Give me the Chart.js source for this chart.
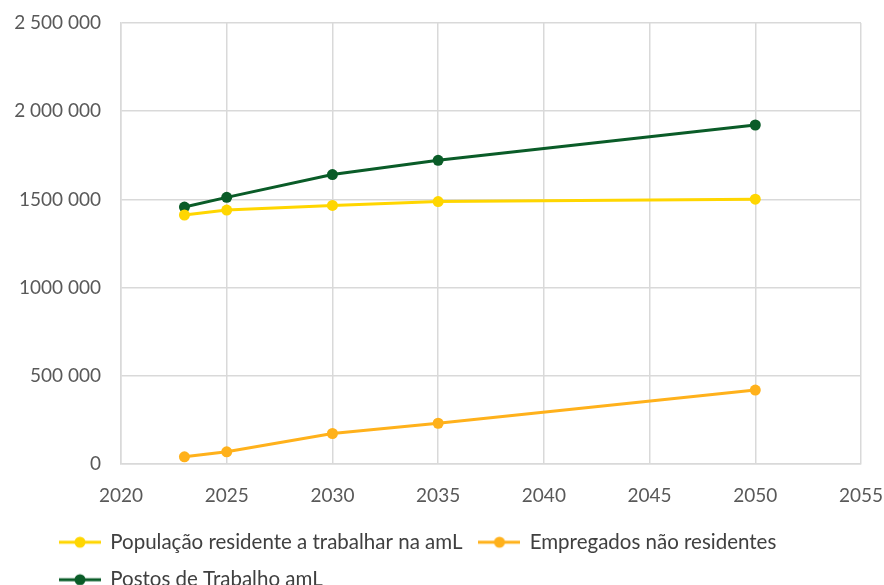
<!DOCTYPE html>
<html>
<head>
<meta charset="utf-8">
<script src="https://cdn.jsdelivr.net/npm/chart.js@4"></script>
<style>
  html, body { margin: 0; padding: 0; background: #fff; }
  #wrap { width: 884px; height: 585px; }
</style>
</head>
<body>
<div id="wrap"><canvas id="chart" width="884" height="585"></canvas></div>
<script>
// anos (eixo x)
const years = [2023, 2025, 2030, 2035, 2050];

// séries
const populacaoResidente = [1412000, 1440000, 1466000, 1488000, 1502000];
const empregadosNaoResidentes = [42000, 70000, 174000, 232000, 420000];
const postosTrabalho = [1457000, 1512000, 1641000, 1722000, 1922000];

const seriesNames = ['População residente a trabalhar na amL', 'Empregados não residentes', 'Postos de Trabalho amL'];
const seriesColors = ['#FFD600', '#FFB11B', '#0A5C28'];

// rótulos do eixo y (formato do original)
const yTickValues = [0, 500000, 1000000, 1500000, 2000000, 2500000];
const yTickLabels = ['0', '500 000', '1000 000', '1500 000', '2 000 000', '2 500 000'];

const FONT = 'Lato, "Noto Sans", sans-serif';

// marcador da legenda: linha com ponto
function legendMarker(color) {
    const c = document.createElement('canvas');
    c.width = 42; c.height = 14;
    const g = c.getContext('2d');
    g.strokeStyle = color;
    g.lineWidth = 3;
    g.beginPath(); g.moveTo(0, 7); g.lineTo(42, 7); g.stroke();
    g.fillStyle = color;
    g.beginPath(); g.arc(21, 7, 5.5, 0, Math.PI * 2); g.fill();
    return c;
}

function toPoints(values) {
    return values.map((v, i) => ({ x: years[i], y: v }));
}

const datasets = [populacaoResidente, empregadosNaoResidentes, postosTrabalho].map((vals, i) => ({
    label: seriesNames[i],
    data: toPoints(vals),
    borderColor: seriesColors[i],
    backgroundColor: seriesColors[i],
    borderWidth: 3,
    pointRadius: 5.5,
    pointHoverRadius: 5.5,
    pointBorderWidth: 0,
    tension: 0,
    fill: false
}));

// posiciona a legenda como no original
const legendShift = {
    id: 'legendShift',
    afterLayout(chart) {
        chart.legend.left += 31;
        chart.legend.top -= 12;
    }
};

new Chart(document.getElementById('chart'), {
    type: 'line',
    data: { datasets: datasets },
    options: {
        responsive: false,
        animation: false,
        layout: { padding: { left: 12, right: 23, top: 23, bottom: -27 } },
        scales: {
            x: {
                type: 'linear',
                min: 2020,
                max: 2055,
                afterFit: s => { s.paddingLeft = 0; s.paddingRight = 0; },
                ticks: {
                    stepSize: 5,
                    color: '#595959',
                    font: { family: FONT, size: 19 },
                    padding: 20,
                    callback: v => String(v)
                },
                grid: { color: '#d9d9d9', lineWidth: 1.5, drawTicks: false },
                border: { color: '#d9d9d9', width: 1.5 }
            },
            y: {
                min: 0,
                max: 2500000,
                afterFit: s => { s.width = 109; s.paddingTop = 0; s.paddingBottom = 0; },
                afterBuildTicks: s => { s.ticks = yTickValues.map(v => ({ value: v })); },
                ticks: {
                    color: '#595959',
                    font: { family: FONT, size: 19 },
                    padding: 20,
                    callback: v => yTickLabels[yTickValues.indexOf(v)]
                },
                grid: { color: '#d9d9d9', lineWidth: 1.5, drawTicks: false },
                border: { color: '#d9d9d9', width: 1.5 }
            }
        },
        plugins: {
            legend: {
                position: 'bottom',
                align: 'start',
                labels: {
                    usePointStyle: true,
                    pointStyleWidth: 40,
                    color: '#404040',
                    font: { family: FONT, size: 20.5 },
                    padding: 17,
                    generateLabels(chart) {
                        return chart.data.datasets.map((ds, i) => ({
                            text: ds.label,
                            pointStyle: legendMarker(seriesColors[i]),
                            fillStyle: seriesColors[i],
                            strokeStyle: seriesColors[i],
                            lineWidth: 0,
                            fontColor: '#404040',
                            hidden: false,
                            datasetIndex: i
                        }));
                    }
                }
            },
            tooltip: { enabled: false }
        }
    },
    plugins: [legendShift]
});
</script>
</body>
</html>
